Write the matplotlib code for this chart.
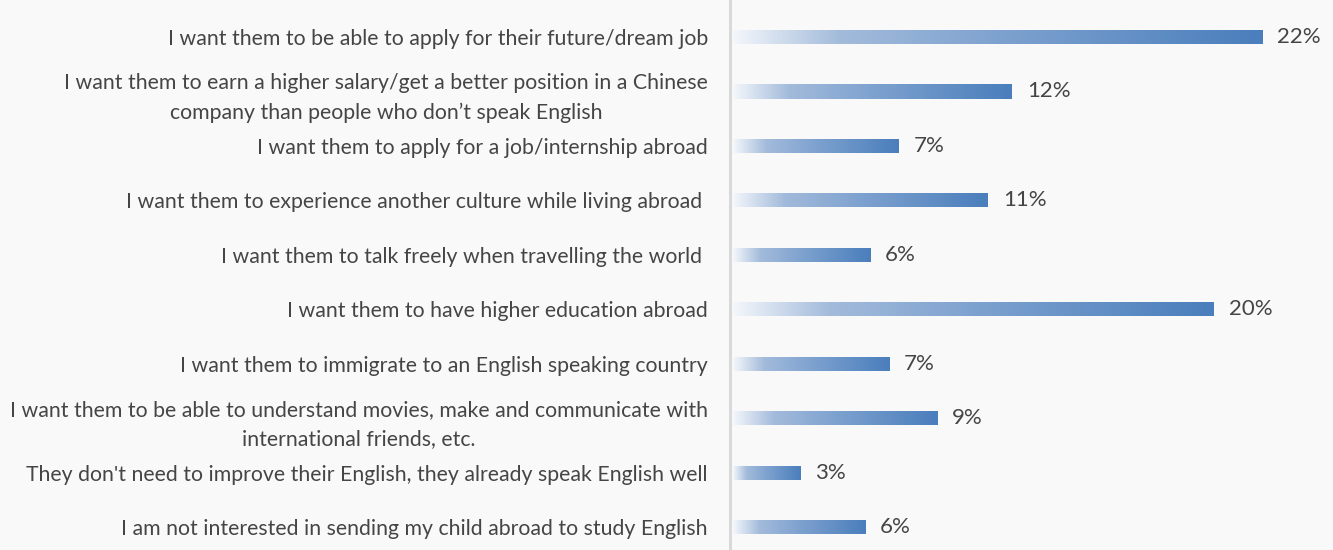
import numpy as np
import matplotlib.pyplot as plt
from matplotlib.colors import LinearSegmentedColormap

reasons = [
    "I want them to be able to apply for their future/dream job",
    "I want them to earn a higher salary/get a better position in a Chinese\ncompany than people who don\u2019t speak English",
    "I want them to apply for a job/internship abroad",
    "I want them to experience another culture while living abroad ",
    "I want them to talk freely when travelling the world ",
    "I want them to have higher education abroad",
    "I want them to immigrate to an English speaking country",
    "I want them to be able to understand movies, make and communicate with\ninternational friends, etc.",
    "They don't need to improve their English, they already speak English well",
    "I am not interested in sending my child abroad to study English",
]
shares = [22.0, 11.6, 6.9, 10.6, 5.7, 20.0, 6.5, 8.5, 2.8, 5.5]
share_labels = ["22%", "12%", "7%", "11%", "6%", "20%", "7%", "9%", "3%", "6%"]

plt.rcParams["font.family"] = ["Lato", "DejaVu Sans"]
bg = "#f9f9f9"
txt = "#454545"

fig = plt.figure(figsize=(13.33, 5.5), dpi=100)
fig.set(facecolor=bg)
ax = fig.add_axes([730 / 1333, 0, 603 / 1333, 1])
ax.set(facecolor=bg)

cmap = LinearSegmentedColormap.from_list(
    "grad", [(0, "#f4f7fb"), (0.2, "#a3bbdb"), (0.5, "#7ea2cf"), (1, "#4a7ebc")])
grad = np.linspace(0, 1, 256).reshape(1, -1)

y = np.arange(len(reasons))
bars = ax.barh(y, shares, height=0.26, color="none", edgecolor="none")
for b, lab in zip(bars, share_labels):
    x0, y0 = b.get_x(), b.get_y()
    w, h = b.get_width(), b.get_height()
    im = ax.imshow(grad, cmap=cmap, aspect="auto", extent=[x0, x0 + w, y0, y0 + h],
                   interpolation="bicubic", zorder=2)
    im.set_clip_path(b)
    ax.text(x0 + w + 0.62, y0 + h / 2, lab, va="center", ha="left",
            fontsize=16, color=txt)

ax.set_xlim(-0.125, 24.95)
ax.set_ylim(9.42, -0.68)
ax.set_yticks(y)
ax.set_yticklabels(reasons, fontsize=15.3, color=txt, multialignment="center",
                   linespacing=1.55)
ax.tick_params(axis="y", length=0, pad=16)
ax.set_xticks([])
for s in ["top", "right", "bottom"]:
    ax.spines[s].set_visible(False)
ax.spines["left"].set_color("#d9d9d9")
ax.spines["left"].set_linewidth(2.2)

fig.savefig("out.png", dpi=100, facecolor=bg)
